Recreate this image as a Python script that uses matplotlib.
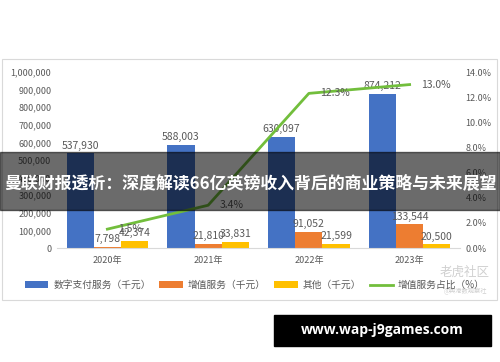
import matplotlib
matplotlib.use("Agg")
import matplotlib.pyplot as plt
import numpy as np
from matplotlib.patches import Rectangle

plt.rcParams['font.family'] = ['Noto Sans CJK SC', 'DejaVu Sans']

years = ["2020年", "2021年", "2022年", "2023年"]
digital = [537930, 588003, 630097, 874212]
value_added = [7798, 21810, 91052, 133544]
other = [42374, 33831, 21599, 20500]
va_share = [1.5, 3.4, 12.3, 13.0]

series_names = ["数字支付服务（千元）", "增值服务（千元）", "其他（千元）", "增值服务占比（%）"]
title = "曼联财报透析：深度解读66亿英镑收入背后的商业策略与未来展望"
site = "www.wap-j9games.com"

c_blue = "#4472C4"
c_orange = "#ED7D31"
c_yellow = "#FFC000"
c_green = "#72BE3C"
c_text = "#595959"

fig = plt.figure(figsize=(5, 3.62), dpi=100)
W, H = 500, 362

def fx(px):
    return px / W

def fy(py):
    return 1 - py / H

# chart frame
fig.patches.append(Rectangle((fx(2), fy(300)), fx(495), 241 / H, transform=fig.transFigure,
                             fill=False, edgecolor="#d9d9d9", linewidth=0.8))

ax = fig.add_axes([fx(57), fy(248), fx(403), (248 - 72) / H])
ax2 = ax.twinx()

x = np.arange(len(years))
w = 0.27
b1 = ax.bar(x - w, digital, w, color=c_blue, label=series_names[0])
b2 = ax.bar(x, value_added, w, color=c_orange, label=series_names[1])
b3 = ax.bar(x + w, other, w, color=c_yellow, label=series_names[2])
for bars in (b1, b2, b3):
    for r in bars:
        ax.annotate(f"{int(r.get_height()):,}", (r.get_x() + r.get_width() / 2, r.get_height()),
                    xytext=(0, 2), textcoords="offset points", ha="center", va="bottom",
                    fontsize=7.5, color=c_text)

ln, = ax2.plot(x, np.array(va_share) / 100, color=c_green, linewidth=2, label=series_names[3])
for xi, v in zip(x, va_share):
    ax2.annotate(f"{v:.1f}%", (xi, v / 100), xytext=(8, 0), textcoords="offset points",
                 ha="left", va="center", fontsize=7.5, color=c_text)

ax.set_xlim(-0.5, len(years) - 0.5)
ax.set_ylim(0, 1000000)
ax2.set_ylim(0, 0.14)
ax.set_yticks(np.arange(0, 1000001, 100000))
ax.set_yticklabels([f"{v:,}" for v in range(0, 1000001, 100000)])
ax2.set_yticks(np.arange(0, 0.1401, 0.02))
ax2.set_yticklabels([f"{v:.1f}%" for v in np.arange(0, 14.01, 2)])
ax.set_xticks(x)
ax.set_xticklabels(years)
for a in (ax, ax2):
    for s in a.spines.values():
        s.set_visible(False)
    a.tick_params(length=0, labelsize=6.5, labelcolor=c_text)
ax.spines["bottom"].set_visible(True)
ax.spines["bottom"].set_color("#d9d9d9")
ax.tick_params(axis="x", pad=6)
ax.tick_params(axis="y", pad=4)
ax2.tick_params(axis="y", pad=4)

fig.legend(handles=[b1, b2, b3, ln], loc="center", bbox_to_anchor=(0.51, fy(285)), ncol=4,
           frameon=False, fontsize=7, labelcolor=c_text, handlelength=2.4,
           handleheight=0.6, columnspacing=0.9, handletextpad=0.5)

# watermark
fig.text(fx(465), fy(272), "老虎社区", fontsize=9, color="#d0d0d0", ha="center", va="center")
fig.text(fx(465), fy(291), "@舆港数观察社", fontsize=4.5, color="#d0d0d0", ha="center", va="center")

# title banner
fig.patches.append(Rectangle((0, fy(210)), 1, (210 - 152) / H, transform=fig.transFigure,
                             color="black", alpha=0.58, zorder=10))
fig.text(0.5, fy(183), title, fontsize=12.2, fontweight="bold", color="white",
         ha="center", va="center", zorder=11)

# site banner
fig.patches.append(Rectangle((fx(274), fy(346)), fx(217), 31 / H, transform=fig.transFigure,
                             color="black", zorder=10))
fig.text(fx(382), fy(330), site, fontsize=10, fontweight="bold", color="white",
         family=["Open Sans", "DejaVu Sans"], ha="center", va="center", zorder=11)

fig.savefig("out.png", dpi=100)
